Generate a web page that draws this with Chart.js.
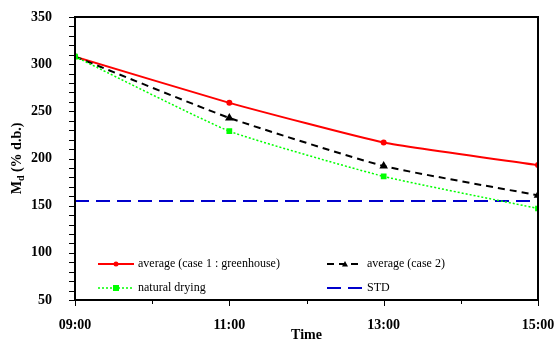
<!DOCTYPE html>
<html>
<head>
<meta charset="utf-8">
<script src="https://cdn.jsdelivr.net/npm/chart.js@4/dist/chart.umd.min.js"></script>
<style>
html,body{margin:0;padding:0;background:#fff;}
#wrap{width:555px;height:342px;}
</style>
</head>
<body>
<div id="wrap"><canvas id="c" width="555" height="342"></canvas></div>
<script>
const hours = [9, 11, 13, 15];
const tickLabels = {9: '09:00', 11: '11:00', 13: '13:00', 15: '15:00'};
const case1 = [308, 259, 217, 193];
const case2 = [308, 243, 192, 161];
const natural = [308, 229, 181, 147];
const stdValue = 155;
const stdHours = [9, 15];
const seriesNames = ['average (case 1 : greenhouse)', 'average (case 2)', 'natural drying', 'STD'];

const FONT = "'Liberation Serif', 'Times New Roman', serif";

function pts(xs, ys) { return xs.map((x, i) => ({x: x, y: ys[i]})); }

const ds = [
  {label: seriesNames[0], data: pts(hours, case1), borderColor: '#ff0000', backgroundColor: '#ff0000',
   borderWidth: 2, pointStyle: 'circle', pointRadius: 2, tension: 0.15, order: 2},
  {label: seriesNames[1], data: pts(hours, case2), borderColor: '#000000', backgroundColor: '#000000',
   borderWidth: 2, borderDash: [7, 5], pointStyle: 'triangle', pointRadius: 3, tension: 0.15, order: 1},
  {label: seriesNames[2], data: pts(hours, natural), borderColor: '#00ff00', backgroundColor: '#00ff00',
   borderWidth: 1.5, borderDash: [2, 2], pointStyle: 'rect', pointRadius: 3, tension: 0.15, order: 0},
  {label: seriesNames[3], data: stdHours.map(h => ({x: h, y: stdValue})), borderColor: '#0000cc', backgroundColor: '#0000cc',
   borderWidth: 2, borderDash: [14, 7], pointRadius: 0, tension: 0, order: 3}
];

const decor = {
  id: 'decor',
  afterDraw(chart) {
    const ctx = chart.ctx, a = chart.chartArea;
    const xs = chart.scales.x, ys = chart.scales.y;
    ctx.save();
    ctx.strokeStyle = '#000'; ctx.lineWidth = 2;
    ctx.strokeRect(a.left, a.top, a.right - a.left, a.bottom - a.top);
    ctx.lineWidth = 1;
    for (let v = 50; v <= 350; v += 10) {
      const y = Math.round(ys.getPixelForValue(v)) + 0.5;
      ctx.beginPath(); ctx.moveTo(a.left - 6, y); ctx.lineTo(a.left, y); ctx.stroke();
    }
    for (let h = 9; h <= 15; h++) {
      const x = Math.round(xs.getPixelForValue(h)) + 0.5;
      const len = (h % 2 === 1) ? 6 : 4;
      ctx.beginPath(); ctx.moveTo(x, a.bottom); ctx.lineTo(x, a.bottom + len); ctx.stroke();
    }
    ctx.font = '12px ' + FONT;
    ctx.textBaseline = 'middle'; ctx.textAlign = 'left';
    const items = [
      {d: ds[0], x: 98, y: 264}, {d: ds[1], x: 327, y: 264},
      {d: ds[2], x: 98, y: 288}, {d: ds[3], x: 327, y: 288}
    ];
    items.forEach(it => {
      const d = it.d;
      ctx.strokeStyle = d.borderColor; ctx.lineWidth = d.borderWidth;
      ctx.setLineDash(d.borderDash || []);
      ctx.beginPath(); ctx.moveTo(it.x, it.y); ctx.lineTo(it.x + 36, it.y); ctx.stroke();
      ctx.setLineDash([]);
      if (d.pointRadius > 0) {
        ctx.fillStyle = d.backgroundColor;
        const cx = it.x + 18, cy = it.y;
        if (d.pointStyle === 'circle') { ctx.beginPath(); ctx.arc(cx, cy, 2.5, 0, Math.PI * 2); ctx.fill(); }
        else if (d.pointStyle === 'rect') { ctx.fillRect(cx - 3, cy - 3, 6, 6); }
        else { ctx.beginPath(); ctx.moveTo(cx, cy - 3); ctx.lineTo(cx + 3, cy + 2.5); ctx.lineTo(cx - 3, cy + 2.5); ctx.closePath(); ctx.fill(); }
      }
      ctx.fillStyle = '#000';
      ctx.fillText(d.label, it.x + 40, it.y);
    });
    ctx.font = 'bold 14px ' + FONT;
    ctx.textAlign = 'center'; ctx.textBaseline = 'alphabetic';
    ctx.fillText('Time', (a.left + a.right) / 2, 339);
    ctx.translate(21, (a.top + a.bottom) / 2);
    ctx.rotate(-Math.PI / 2);
    const p1 = 'M', p2 = 'd', p3 = ' (% d.b.)';
    ctx.font = 'bold 14px ' + FONT; const w1 = ctx.measureText(p1).width, w3 = ctx.measureText(p3).width;
    ctx.font = 'bold 10px ' + FONT; const w2 = ctx.measureText(p2).width;
    let sx = -(w1 + w2 + w3) / 2;
    ctx.textAlign = 'left';
    ctx.font = 'bold 14px ' + FONT; ctx.fillText(p1, sx, 0); sx += w1;
    ctx.font = 'bold 10px ' + FONT; ctx.fillText(p2, sx, 3); sx += w2;
    ctx.font = 'bold 14px ' + FONT; ctx.fillText(p3, sx, 0);
    ctx.restore();
  }
};

new Chart(document.getElementById('c'), {
  type: 'line',
  data: {datasets: ds},
  options: {
    responsive: false,
    animation: false,
    layout: {padding: {top: 17, right: 17, left: 0, bottom: 0}},
    plugins: {legend: {display: false}, tooltip: {enabled: false}},
    scales: {
      x: {
        type: 'linear', min: 9, max: 15,
        grid: {display: false}, border: {display: false},
        ticks: {stepSize: 1, autoSkip: false, maxRotation: 0, padding: 9, color: '#000',
          font: {family: FONT, size: 14, weight: 'bold'},
          callback: v => tickLabels[v] || ''},
        afterFit: s => { s.height = 42; s.paddingLeft = 0; s.paddingRight = 0; }
      },
      y: {
        min: 50, max: 350,
        grid: {display: false}, border: {display: false},
        ticks: {stepSize: 50, padding: 15, color: '#000',
          font: {family: FONT, size: 14, weight: 'bold'}},
        afterFit: s => { s.width = 75; s.paddingTop = 0; s.paddingBottom = 0; }
      }
    }
  },
  plugins: [decor]
});
</script>
</body>
</html>
